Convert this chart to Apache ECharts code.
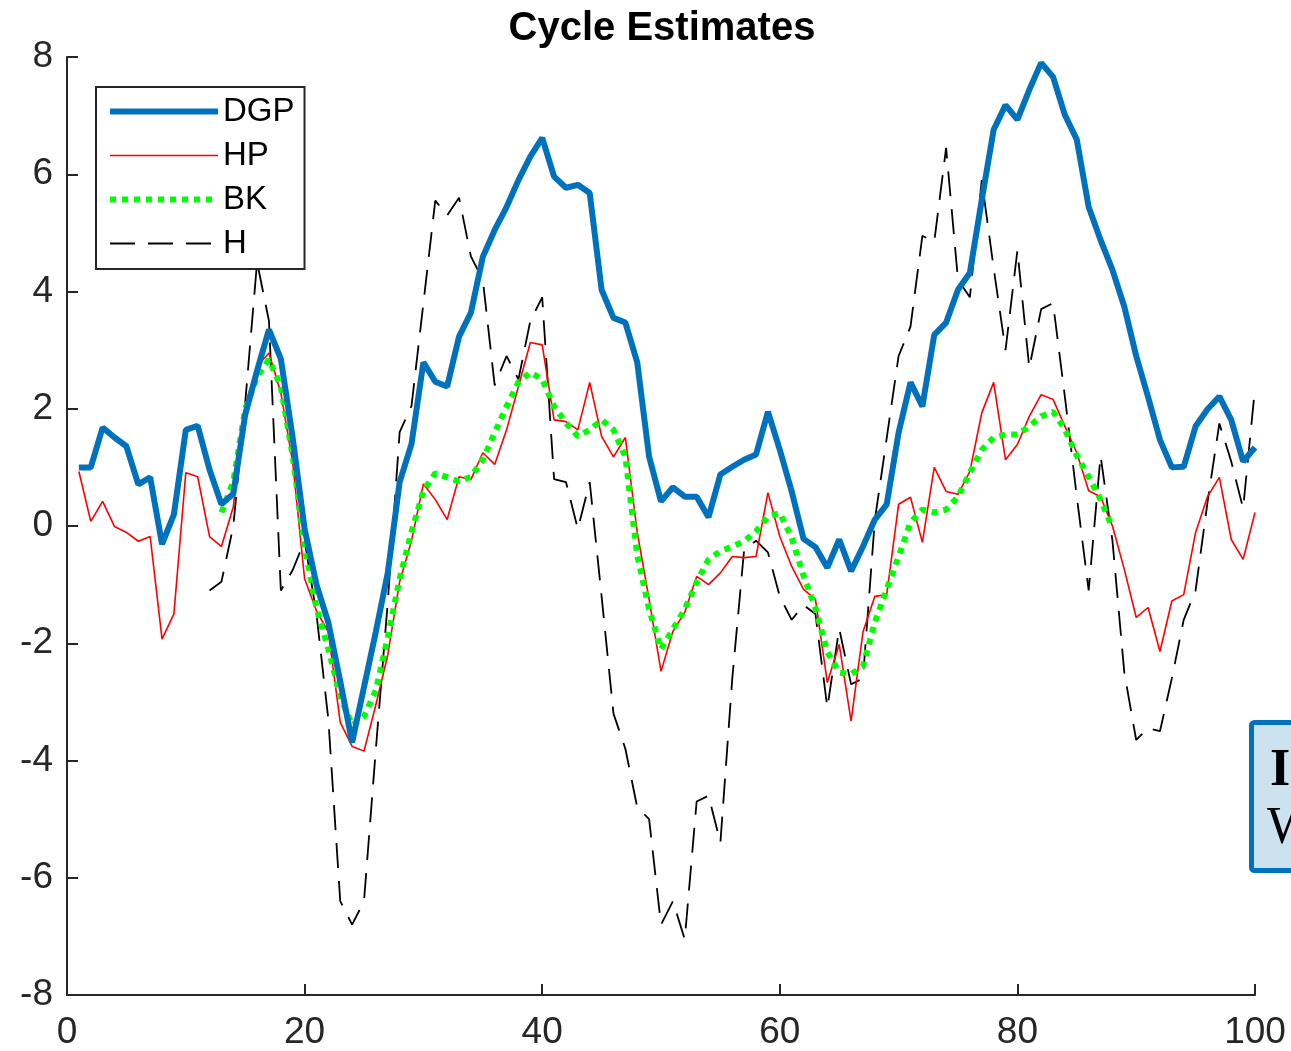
<!DOCTYPE html>
<html><head><meta charset="utf-8">
<script src="https://cdn.jsdelivr.net/npm/echarts@6/dist/echarts.min.js"></script>
<style>html,body{margin:0;padding:0;background:#fff}#c{width:1291px;height:1051px}</style>
</head><body><div id="c"></div>
<script>
const xTicks = [0, 20, 40, 60, 80, 100];
const yTicks = [-8, -6, -4, -2, 0, 2, 4, 6, 8];
const seriesNames = ['DGP', 'HP', 'BK', 'H'];
// DGP: x = 1..100
const dgp = [1.0,1.0,1.68,1.51,1.36,0.71,0.83,-0.31,0.2,1.64,1.71,0.96,0.37,0.55,1.9,2.65,3.35,2.85,1.5,-0.05,-1.0,-1.65,-2.65,-3.69,-2.75,-1.8,-0.8,0.75,1.4,2.79,2.46,2.38,3.23,3.64,4.59,5.05,5.44,5.9,6.3,6.62,5.96,5.77,5.82,5.68,4.03,3.55,3.47,2.79,1.18,0.42,0.66,0.5,0.5,0.15,0.88,1.01,1.13,1.22,1.95,1.3,0.59,-0.22,-0.36,-0.71,-0.23,-0.77,-0.35,0.11,0.37,1.59,2.45,2.04,3.26,3.47,4.03,4.32,5.56,6.76,7.18,6.93,7.44,7.9,7.66,7.01,6.59,5.44,4.88,4.37,3.74,2.9,2.2,1.47,1.0,1.01,1.7,1.99,2.21,1.81,1.1,1.34];
// HP: x = 1..100
const hp = [0.93,0.08,0.42,-0.01,-0.11,-0.26,-0.18,-1.93,-1.5,0.91,0.84,-0.18,-0.35,0.33,2.04,2.72,2.95,2.27,1.08,-0.9,-1.45,-1.81,-3.35,-3.76,-3.84,-3.05,-2.2,-0.95,-0.25,0.72,0.45,0.11,0.84,0.79,1.25,1.05,1.64,2.38,3.13,3.09,1.81,1.78,1.64,2.45,1.53,1.18,1.51,-0.11,-1.25,-2.48,-1.8,-1.47,-0.86,-1.0,-0.8,-0.52,-0.54,-0.52,0.57,-0.18,-0.69,-1.08,-1.25,-2.67,-2.02,-3.33,-1.81,-1.2,-1.17,0.37,0.49,-0.28,1.0,0.59,0.54,0.93,1.93,2.45,1.13,1.39,1.87,2.24,2.16,1.7,1.25,0.6,0.5,0.0,-0.74,-1.56,-1.39,-2.14,-1.28,-1.17,-0.11,0.5,0.83,-0.23,-0.57,0.23];
// BK: x = 13..88
const bkStart = 13;
const bk = [0.23,0.76,1.99,2.55,2.84,2.38,1.19,-0.35,-1.4,-2.1,-2.9,-3.4,-3.25,-2.8,-1.9,-0.9,-0.1,0.6,0.9,0.83,0.76,0.84,1.13,1.59,2.04,2.45,2.62,2.5,2.04,1.76,1.53,1.64,1.81,1.64,1.18,-0.5,-1.42,-2.1,-1.76,-1.42,-0.96,-0.57,-0.43,-0.35,-0.26,-0.09,0.16,0.22,-0.2,-0.85,-1.4,-2.15,-2.5,-2.53,-2.39,-1.64,-1.08,-0.52,0.06,0.28,0.23,0.28,0.5,0.91,1.3,1.51,1.56,1.56,1.7,1.87,1.95,1.65,1.2,0.84,0.45,-0.03];
// H: x = 12..100
const hStart = 12;
const h = [-1.1,-0.95,0.0,2.1,4.5,3.5,-1.1,-0.75,-0.25,-1.5,-3.3,-6.4,-6.8,-6.4,-3.8,-1.3,1.6,2.05,3.8,5.55,5.3,5.6,4.6,4.2,2.4,2.9,2.5,3.5,3.9,0.8,0.75,-0.05,0.75,-1.2,-3.2,-3.8,-4.8,-5.0,-6.8,-6.4,-7.05,-4.7,-4.6,-5.4,-2.6,-0.4,-0.25,-0.45,-1.2,-1.6,-1.35,-1.5,-3.1,-1.75,-2.7,-2.6,0.1,1.5,2.9,3.4,4.95,4.85,6.45,4.2,3.9,5.9,4.4,3.0,4.7,2.7,3.7,3.8,2.2,0.5,-1.1,1.2,-0.25,-2.5,-3.65,-3.45,-3.5,-2.6,-1.6,-1.1,0.4,1.75,1.1,0.3,2.35];

function pairs(arr, start) { return arr.map((v, i) => [start + i, v]); }

const axisColor = '#262626';
const font = '"Liberation Sans", Arial, sans-serif';
const chart = echarts.init(document.getElementById('c'), null, {renderer: 'canvas'});
chart.setOption({
  backgroundColor: '#ffffff',
  animation: false,
  title: {
    text: 'Cycle Estimates', left: 662, top: 9, textAlign: 'center', padding: 0,
    textStyle: {fontFamily: font, fontSize: 40, fontWeight: 'bold', color: '#000'}
  },
  grid: {left: 67, right: 36, top: 57, bottom: 55, containLabel: false},
  legend: {
    orient: 'vertical', left: 96, top: 87,
    data: seriesNames,
    backgroundColor: '#fff', borderColor: axisColor, borderWidth: 2,
    padding: [8, 10, 9, 11], itemGap: 11, itemWidth: 108, itemHeight: 32,
    lineStyle: {width: 'inherit', type: 'inherit'},
    itemStyle: {opacity: 0},
    textStyle: {fontFamily: font, fontSize: 33, color: '#000', lineHeight: 32},
    selectedMode: false
  },
  xAxis: {
    type: 'value', min: 0, max: 100, interval: 20,
    axisLine: {show: true, onZero: false, lineStyle: {color: axisColor, width: 2}},
    axisTick: {show: true, inside: true, length: 11, lineStyle: {color: axisColor, width: 2}},
    splitLine: {show: false},
    axisLabel: {fontFamily: font, fontSize: 37, color: axisColor, margin: 19,
      formatter: v => xTicks.includes(v) ? String(v) : ''}
  },
  yAxis: {
    type: 'value', min: -8, max: 8, interval: 2,
    axisLine: {show: true, onZero: false, lineStyle: {color: axisColor, width: 2}},
    axisTick: {show: true, inside: true, length: 11, lineStyle: {color: axisColor, width: 2}},
    splitLine: {show: false},
    axisLabel: {fontFamily: font, fontSize: 37, color: axisColor, margin: 14,
      formatter: v => yTicks.includes(v) ? String(v) : ''}
  },
  series: [
    {name: 'H', type: 'line', data: pairs(h, hStart), symbol: 'none', z: 2,
      lineStyle: {color: '#000000', width: 1.8, type: [25, 13]}},
    {name: 'HP', type: 'line', data: pairs(hp, 1), symbol: 'none', z: 3,
      lineStyle: {color: '#ff0000', width: 1.6}},
    {name: 'BK', type: 'line', data: pairs(bk, bkStart), symbol: 'none', z: 4,
      lineStyle: {color: '#00ff00', width: 6, type: [6, 6], cap: 'butt'}},
    {name: 'DGP', type: 'line', data: pairs(dgp, 1), symbol: 'none', z: 5,
      lineStyle: {color: '#0072BD', width: 6}}
  ],
  graphic: [
    {type: 'rect', z: 100, shape: {x: 1251.5, y: 722.5, width: 120, height: 148, r: 3},
      style: {fill: '#CCE2EE', stroke: '#0070C0', lineWidth: 5}},
    {type: 'text', z: 101, left: 1270, top: 746,
      style: {text: 'I', fontFamily: '"Liberation Serif", "Times New Roman", serif', fontSize: 52, fontWeight: 'bold', fill: '#000'}},
    {type: 'text', z: 101, left: 1267, top: 803,
      style: {text: 'W', fontFamily: '"Liberation Serif", "Times New Roman", serif', fontSize: 52, fill: '#000'}}
  ]
});
</script></body></html>
